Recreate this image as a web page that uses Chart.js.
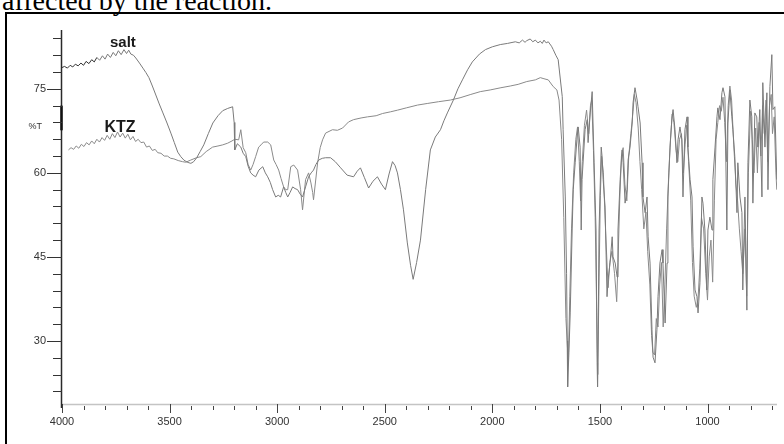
<!DOCTYPE html>
<html>
<head>
<meta charset="utf-8">
<script src="https://cdn.jsdelivr.net/npm/chart.js@4/dist/chart.umd.min.js"></script>
<style>
  html, body { margin: 0; padding: 0; background: #ffffff; overflow: hidden; }
  #wrap { position: relative; width: 784px; height: 444px; overflow: hidden; background: #fff; }
  #caption { position: absolute; left: 2px; top: -13px; font-family: "Liberation Serif", "Times New Roman", serif; font-size: 28px; line-height: 27px; color: #000; white-space: nowrap; }
  #frame { position: absolute; left: 5px; top: 12px; width: 800px; height: 460px; border-top: 2px solid #000; border-left: 2px solid #000; }
  #c { position: absolute; left: 0; top: 0; }
</style>
</head>
<body>
<div id="wrap">
  <div id="caption">affected by the reaction.</div>
  <div id="frame"></div>
  <canvas id="c" width="784" height="444"></canvas>
</div>
<script>
// ---- data: [wavenumber (cm-1), %T] ----
const saltSpectrum = [
  [4000,78.8],[3988,79.0],[3975,78.7],[3962,79.2],[3950,78.9],[3938,79.4],[3925,79.1],[3912,79.6],[3900,79.2],[3888,79.9],
  [3875,79.5],[3862,80.2],[3850,79.8],[3838,80.6],[3825,80.1],[3812,80.9],[3800,80.3],[3788,81.2],[3775,80.6],[3762,81.5],
  [3750,80.9],[3738,81.8],[3725,81.1],[3712,82.0],[3700,81.3],[3690,81.9],[3680,81.2],[3668,81.0],[3657,80.5],[3640,79.6],
  [3624,78.7],[3610,77.9],[3596,77.0],[3580,75.5],[3564,73.9],[3548,72.3],[3531,70.7],[3512,68.9],[3494,67.1],[3478,65.4],
  [3462,63.7],[3448,62.9],[3434,62.3],[3418,61.9],[3401,61.7],[3388,62.0],[3374,62.7],[3358,63.8],[3341,65.0],[3320,67.0],
  [3299,68.9],[3275,70.2],[3253,71.1],[3230,71.5],[3207,71.8],[3200,69.0],[3197,64.1],
  [3185,65.2],[3169,64.6],[3158,63.5],[3146,62.9],[3135,61.2],[3123,60.0],[3112,59.6],[3100,59.3],[3085,60.5],[3067,61.1],
  [3055,60.0],[3044,59.3],[3032,58.3],[3021,57.0],[3007,55.7],[2995,56.0],[2984,55.7],[2970,57.5],[2960,56.5],[2951,55.7],
  [2940,56.5],[2928,57.5],[2917,57.2],[2905,57.0],[2893,56.2],[2882,55.7],[2868,57.5],[2854,59.3],[2842,60.0],[2831,60.5],
  [2820,61.5],[2807,62.3],[2790,62.6],[2775,62.7],[2752,62.7],[2730,62.0],[2705,60.9],[2675,59.6],[2645,59.3],[2628,60.3],
  [2613,60.9],[2595,59.2],[2575,57.3],[2555,58.5],[2534,59.3],[2515,58.0],[2497,57.0],[2480,59.8],[2464,62.0],[2452,61.3],
  [2441,60.0],[2427,57.0],[2413,53.4],[2395,47.5],[2380,43.5],[2368,41.0],[2352,44.0],[2334,48.0],[2310,57.0],[2288,64.1],
  [2265,66.4],[2241,67.7],[2225,69.3],[2209,70.7],[2181,73.0],[2160,75.0],[2139,76.6],[2115,78.4],[2093,79.8],[2060,81.2],
  [2032,82.0],[2000,82.5],[1963,82.9],[1930,83.1],[1893,83.4],[1875,83.2],[1860,83.7],[1848,83.3],[1840,83.6],[1824,83.9],
  [1812,83.4],[1800,83.7],[1788,83.2],[1777,83.5],[1768,83.1],[1760,83.7],[1750,83.2],[1740,83.4],[1725,82.6],[1717,82.0],
  [1705,81.0],[1694,80.2],
  [1675,73.6],[1671,67.7],[1661,55.7],[1655,42.0],[1652,30.0],[1650,21.8],[1644,28.0],[1638,35.0],[1629,49.8],[1624,57.0],
  [1615,61.8],[1606,66.4],[1601,68.2],[1592,64.6],[1587,49.8],[1583,58.8],[1569,67.7],[1559,69.5],[1555,65.4],[1545,70.7],
  [1536,74.5],[1527,61.8],[1518,49.8],[1513,26.1],[1511,21.8],[1508,32.0],[1504,49.8],[1494,64.6],[1490,62.9],[1485,58.8],
  [1476,53.9],[1467,37.9],[1462,40.9],[1453,43.9],[1443,48.6],[1439,45.0],[1429,43.9],[1420,41.4],[1416,49.8],[1406,58.8],
  [1397,64.1],[1392,61.8],[1383,54.6],[1374,57.0],[1369,62.3],[1360,64.6],[1350,68.9],[1346,72.5],[1337,75.2],[1327,73.0],
  [1323,71.8],[1313,68.9],[1304,61.8],[1300,55.7],[1290,52.9],[1281,55.7],[1276,48.6],[1267,43.9],[1258,32.0],[1253,27.1],
  [1244,26.1],[1235,32.0],[1230,37.9],[1221,43.9],[1211,46.3],[1207,43.9],[1197,33.2],[1188,43.9],[1184,55.7],[1174,64.6],
  [1165,70.0],[1160,71.3],[1151,67.7],[1142,61.8],[1137,65.9],[1128,68.2],[1119,65.9],[1114,55.7],[1105,67.7],[1095,70.0],
  [1091,64.6],[1081,58.8],[1072,55.7],[1067,46.8],[1058,39.1],[1049,37.9],[1044,35.0],[1035,40.4],[1026,55.7],[1021,54.6],
  [1012,49.8],[1003,39.1],[998,49.8],[989,52.1],[979,49.8],[975,58.8],[965,64.6],[956,70.0],[952,71.6],[942,69.5],
  [933,74.3],[928,75.2],[919,73.6],[910,49.8],[905,68.9],[896,74.8],[887,70.0],[882,67.7],[873,62.9],[863,52.9],
  [859,61.8],[849,55.7],[840,52.9],[836,39.1],[826,55.7],[817,35.5],[812,61.8],[803,73.0],[794,70.0],[789,54.6],
  [780,70.7],[771,70.0],[766,64.6],[757,71.3],[747,55.7],[743,76.1],[733,64.6],[724,74.3],[719,57.0],[710,75.4],
  [701,81.1],[696,71.3],[687,71.8],[678,58.8]
];

const ktzSpectrum = [
  [3970,64.1],[3958,64.5],[3946,64.2],[3934,64.8],[3922,64.4],[3910,65.1],[3898,64.7],[3886,65.4],[3874,65.0],[3862,65.7],
  [3850,65.2],[3838,66.0],[3826,65.5],[3814,66.3],[3802,65.8],[3790,66.7],[3778,66.0],[3766,67.0],[3754,66.3],[3742,67.3],
  [3730,66.4],[3718,67.1],[3706,66.2],[3694,66.9],[3682,65.9],[3670,66.5],[3658,65.6],[3646,66.0],[3633,65.4],[3620,65.5],
  [3607,64.6],[3594,64.8],[3580,64.0],[3567,64.2],[3555,63.6],[3540,63.5],[3525,63.0],[3510,63.0],[3495,62.6],[3480,62.5],
  [3460,62.2],[3440,62.0],[3425,61.9],[3401,62.3],[3375,62.7],[3355,62.9],[3330,63.8],[3300,64.6],[3275,64.8],[3253,65.0],
  [3230,65.3],[3210,65.7],[3197,66.0],[3179,65.9],[3169,67.7],[3158,64.5],[3146,63.6],[3135,61.5],[3123,60.5],[3112,61.5],
  [3100,62.9],[3086,64.6],[3075,65.0],[3063,65.5],[3044,65.5],[3030,65.0],[3016,62.3],[3005,61.5],[2993,60.5],[2982,59.0],
  [2970,57.5],[2960,57.0],[2951,57.0],[2937,61.1],[2923,61.4],[2905,60.5],[2891,57.0],[2882,53.4],[2868,58.8],[2854,60.0],
  [2843,58.2],[2835,56.5],[2831,55.2],[2812,61.8],[2800,64.5],[2789,65.9],[2775,67.1],[2743,67.7],[2720,67.6],[2696,68.0],
  [2668,69.1],[2645,69.5],[2610,69.8],[2580,70.0],[2540,70.2],[2510,70.6],[2473,70.9],[2440,71.2],[2400,71.6],[2348,72.1],
  [2300,72.4],[2250,72.7],[2195,73.0],[2150,73.4],[2100,74.0],[2056,74.5],[2010,74.8],[1960,75.2],[1917,75.5],[1880,75.8],
  [1840,76.3],[1800,76.6],[1777,77.0],[1760,76.8],[1740,76.6],[1717,75.4],[1700,74.8],
  [1690,73.0],[1678,66.0],[1668,52.0],[1658,34.0],[1647,26.1],[1640,38.0],[1632,50.0],[1622,60.0],[1612,66.0],[1604,68.2],
  [1596,62.0],[1590,55.0],[1582,62.0],[1572,68.5],[1562,71.2],[1552,67.0],[1544,72.0],[1538,73.0],[1530,64.0],[1522,52.0],
  [1515,35.0],[1510,24.0],[1505,38.0],[1498,56.0],[1492,63.0],[1484,60.0],[1474,50.0],[1462,39.5],[1454,44.0],[1444,46.0],
  [1432,42.0],[1422,37.0],[1416,44.0],[1408,55.0],[1400,63.0],[1392,64.5],[1384,58.0],[1375,55.0],[1366,63.0],[1356,67.0],
  [1346,71.0],[1340,74.0],[1332,72.5],[1322,68.0],[1314,62.0],[1306,57.0],[1296,50.0],[1286,53.0],[1278,46.0],[1268,40.0],
  [1260,31.0],[1254,28.0],[1246,27.5],[1238,34.0],[1230,32.5],[1222,40.0],[1214,44.0],[1206,32.5],[1198,40.0],[1190,50.0],
  [1180,60.0],[1172,66.0],[1164,70.5],[1156,69.0],[1146,64.0],[1138,62.0],[1130,66.0],[1121,67.0],[1112,60.0],[1104,65.0],
  [1097,68.5],[1088,62.0],[1078,55.0],[1070,44.0],[1062,38.0],[1052,36.0],[1044,37.5],[1036,43.0],[1028,52.0],[1018,50.0],
  [1008,42.0],[1000,37.3],[992,45.0],[984,48.0],[976,40.5],[968,55.0],[960,66.0],[952,69.0],[944,72.0],[936,71.0],
  [928,73.5],[920,69.0],[912,62.0],[904,72.0],[896,75.5],[888,73.0],[878,65.0],[868,58.0],[860,55.0],[852,50.0],
  [844,46.0],[836,42.0],[826,50.0],[818,38.0],[810,60.0],[800,71.0],[792,66.0],[784,60.0],[776,68.0],[768,60.0],
  [760,69.0],[752,63.0],[744,72.0],[736,67.0],[728,73.0],[720,62.0],[712,72.0],[704,74.0],[698,67.0],[690,70.0],
  [682,60.0],[678,57.0]
];

const xTickValues = [4000,3900,3800,3700,3600,3500,3400,3300,3200,3100,3000,2900,2800,2700,2600,2500,2400,2300,2200,2100,2000,1900,1800,1700,1600,1500,1400,1300,1200,1100,1000,900,800,700];
const xLabelValues = [4000,3500,3000,2500,2000,1500,1000];
const yTickValues = [21,24,27,30,33,36,39,42,45,48,51,54,57,60,63,66,69,72,75,78,81,84];
const yLabelValues = [30,45,60,75];
const seriesNames = ['salt','KTZ'];
const yAxisTitle = '%T';

// ---- drawing ----
const tickFont = { family: '"Liberation Sans", Arial, sans-serif', size: 11 };

const axisPlugin = {
  id: 'irAxes',
  afterDraw(chart) {
    const { ctx, chartArea: a, scales: { x, y } } = chart;
    ctx.save();
    // x axis line (light grey)
    ctx.strokeStyle = '#c4c4c4';
    ctx.lineWidth = 1.5;
    ctx.beginPath();
    ctx.moveTo(a.left, a.bottom + 0.5);
    ctx.lineTo(a.right, a.bottom + 0.5);
    ctx.stroke();
    // x ticks
    ctx.strokeStyle = '#444';
    ctx.lineWidth = 1;
    xTickValues.forEach(v => {
      const px = Math.round(x.getPixelForValue(v)) + 0.5;
      const major = xLabelValues.includes(v);
      ctx.beginPath();
      ctx.moveTo(px, a.bottom + (major ? 0 : 2));
      ctx.lineTo(px, a.bottom + (major ? 9 : 6));
      ctx.stroke();
    });
    // y axis line (dark)
    ctx.strokeStyle = '#2a2a2a';
    ctx.lineWidth = 1.5;
    ctx.beginPath();
    ctx.moveTo(a.left - 0.5, a.top);
    ctx.lineTo(a.left - 0.5, a.bottom + 4);
    ctx.stroke();
    // darker segment beside %T
    ctx.lineWidth = 2.5;
    ctx.strokeStyle = '#111';
    ctx.beginPath();
    ctx.moveTo(a.left - 0.5, y.getPixelForValue(72));
    ctx.lineTo(a.left - 0.5, y.getPixelForValue(67.6));
    ctx.stroke();
    // y ticks
    ctx.lineWidth = 1;
    ctx.strokeStyle = '#333';
    yTickValues.forEach(v => {
      const py = Math.round(y.getPixelForValue(v)) + 0.5;
      const major = yLabelValues.includes(v);
      ctx.beginPath();
      ctx.moveTo(a.left - (major ? 15 : 9), py);
      ctx.lineTo(a.left, py);
      ctx.stroke();
    });
    // %T axis label
    ctx.fillStyle = '#333';
    ctx.font = '9px "Liberation Sans", Arial, sans-serif';
    ctx.textAlign = 'right';
    ctx.textBaseline = 'middle';
    ctx.fillText(yAxisTitle, a.left - 20, y.getPixelForValue(68.3));
    // series labels
    ctx.fillStyle = '#1a1a1a';
    ctx.textAlign = 'center';
    ctx.textBaseline = 'alphabetic';
    ctx.font = 'bold 15px "Liberation Sans", Arial, sans-serif';
    ctx.fillText(seriesNames[0], x.getPixelForValue(3717), y.getPixelForValue(82.4));
    ctx.font = 'bold 16px "Liberation Sans", Arial, sans-serif';
    ctx.fillText(seriesNames[1], x.getPixelForValue(3730), y.getPixelForValue(67.3));
    ctx.restore();
  }
};

const toXY = arr => arr.map(p => ({ x: p[0], y: p[1] }));

new Chart(document.getElementById('c'), {
  type: 'line',
  data: {
    datasets: [
      { label: seriesNames[0], data: toXY(saltSpectrum), borderColor: '#7a7a7a', borderWidth: 1, pointRadius: 0, tension: 0, fill: false,
        segment: { borderColor: c => (c.p0.parsed.x > 3840 ? '#333' : undefined) } },
      { label: seriesNames[1], data: toXY(ktzSpectrum), borderColor: '#8a8a8a', borderWidth: 1, pointRadius: 0, tension: 0, fill: false }
    ]
  },
  options: {
    responsive: false,
    animation: false,
    devicePixelRatio: 1,
    layout: { padding: { top: 30, right: 7, left: 0, bottom: 0 } },
    plugins: { legend: { display: false }, tooltip: { enabled: false } },
    scales: {
      x: {
        type: 'linear',
        reverse: true,
        min: 677,
        max: 4000,
        grid: { display: false, drawTicks: false },
        border: { display: false },
        afterBuildTicks: s => { s.ticks = xTickValues.map(v => ({ value: v })); },
        afterFit: s => { s.height = 40; },
        ticks: {
          autoSkip: false,
          maxRotation: 0,
          padding: 11,
          color: '#333',
          font: tickFont,
          callback: v => xLabelValues.includes(v) ? String(v) : ''
        }
      },
      y: {
        min: 18.75,
        max: 85.5,
        grid: { display: false, drawTicks: false },
        border: { display: false },
        afterBuildTicks: s => { s.ticks = yTickValues.map(v => ({ value: v })); },
        afterFit: s => { s.width = 62; },
        ticks: {
          autoSkip: false,
          padding: 16,
          color: '#333',
          font: tickFont,
          callback: v => yLabelValues.includes(v) ? String(v) : ''
        }
      }
    }
  },
  plugins: [axisPlugin]
});
</script>
</body>
</html>
